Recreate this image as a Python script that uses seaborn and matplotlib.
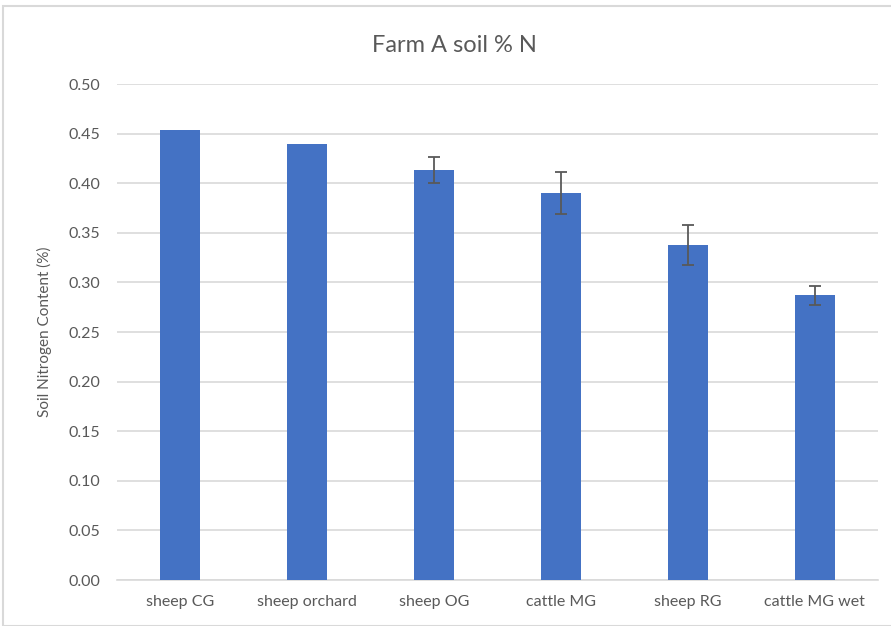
import matplotlib
matplotlib.use("Agg")
import matplotlib.pyplot as plt
import seaborn as sns
import numpy as np
from matplotlib.patches import Rectangle

# data
sites = ["sheep CG", "sheep orchard", "sheep OG", "cattle MG", "sheep RG", "cattle MG wet"]
soil_n = [0.454, 0.440, 0.413, 0.390, 0.338, 0.287]
soil_n_err = [np.nan, np.nan, 0.013, 0.021, 0.020, 0.0095]
y_ticks = [0.00, 0.05, 0.10, 0.15, 0.20, 0.25, 0.30, 0.35, 0.40, 0.45, 0.50]

sns.set_style("white")
plt.rcParams["font.family"] = ["Lato", "DejaVu Sans"]
text_col = "#595959"
grid_col = "#D9D9D9"

fig = plt.figure(figsize=(8.91, 6.26), dpi=100)
ax = fig.add_axes([117 / 891, 1 - 580 / 626, (878 - 117) / 891, (580 - 84) / 626])

sns.barplot(x=sites, y=soil_n, color="#4472C4", saturation=1, width=0.315,
            linewidth=0, ax=ax, zorder=3)

# error bars only where they exist
pos = [i for i, e in enumerate(soil_n_err) if not np.isnan(e)]
ax.errorbar(pos, [soil_n[i] for i in pos], yerr=[soil_n_err[i] for i in pos],
            fmt="none", ecolor=text_col, elinewidth=1.3, capsize=4.5, capthick=1.3, zorder=4)

ax.set_ylim(0, 0.5)
ax.set_xlim(-0.5, len(sites) - 0.5)
ax.set_yticks(y_ticks)
ax.set_yticklabels([f"{v:.2f}" for v in y_ticks])
ax.yaxis.grid(True, color=grid_col, linewidth=1.2, zorder=0)
ax.set_axisbelow(True)
for s in ["top", "right", "left"]:
    ax.spines[s].set_visible(False)
ax.spines["bottom"].set_color(grid_col)
ax.spines["bottom"].set_linewidth(1.2)
ax.tick_params(axis="y", length=0, pad=12, labelsize=11.5, labelcolor=text_col)
ax.tick_params(axis="x", length=0, pad=11, labelsize=11.5, labelcolor=text_col)

ax.set_ylabel("Soil Nitrogen Content (%)", fontsize=11, color=text_col, labelpad=12)
fig.text(454 / 891, 1 - 45 / 626, "Farm A soil % N", ha="center", va="center",
         fontsize=17, color=text_col)

# light chart-area border like the Excel frame
fig.patches.append(Rectangle((3 / 891, 0.0), 1.0, 1 - 6 / 626, transform=fig.transFigure,
                             fill=False, edgecolor=grid_col, linewidth=1.5))

fig.savefig("out.png", dpi=100, facecolor="white")
